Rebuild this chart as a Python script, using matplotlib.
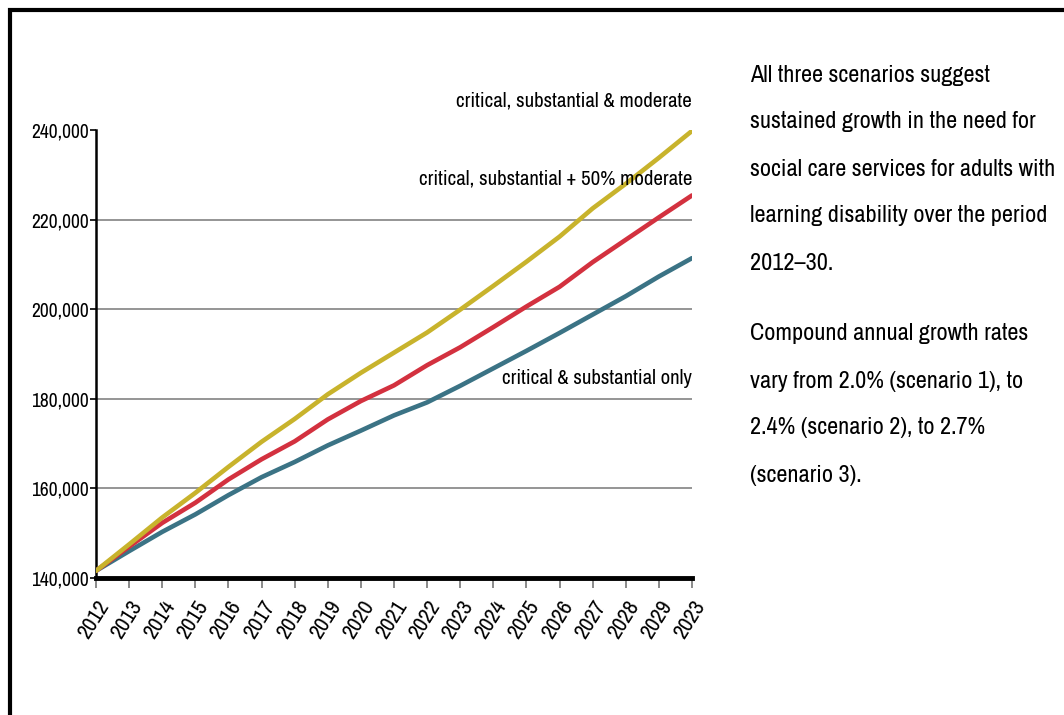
import matplotlib.pyplot as plt
import matplotlib.patches as patches
import matplotlib.font_manager as fm

# Datos
years = list(range(2012, 2031))
year_labels = [str(y) for y in range(2012, 2030)] + ['2023']

crit_sub_mod = [141600, 147500, 153500, 159000, 164800, 170400, 175500, 181000, 185800,
                190300, 194800, 199900, 205200, 210600, 216200, 222500, 228000, 233800, 239800]
crit_sub_half = [141600, 147000, 152300, 156800, 162000, 166500, 170500, 175400, 179500,
                 183000, 187500, 191500, 196000, 200600, 205000, 210500, 215500, 220500, 225400]
crit_sub_only = [141600, 146000, 150300, 154200, 158500, 162500, 165900, 169600, 172900,
                 176300, 179200, 182900, 186800, 190700, 194700, 198800, 202900, 207300, 211400]

series_names = ['critical, substantial & moderate',
                'critical, substantial + 50% moderate',
                'critical & substantial only']

yellow = '#C8B32C'
red = '#D3313F'
blue = '#3B7385'

# Buscar una fuente estrecha (condensada) instalada
narrow = None
for f in fm.fontManager.ttflist:
    regular = f.style == 'normal' and f.weight in (400, 'normal', 'regular')
    if regular and ('Narrow' in f.name or 'Condensed' in f.name or 'condensed' in str(f.stretch)
                    or f.stretch in (500, 'semi-condensed')):
        if 'Bold' in f.fname or 'Oblique' in f.fname or 'Italic' in f.fname:
            continue
        narrow = f.fname
        if 'Narrow' in f.name:
            break


def fp(size):
    if narrow:
        return fm.FontProperties(fname=narrow, size=size)
    return fm.FontProperties(family='DejaVu Sans', size=size, stretch='condensed')


fig = plt.figure(figsize=(10.64, 7.15), dpi=100)
ax = fig.add_axes([96 / 1064, 1 - 578 / 715, (692 - 96) / 1064, (578 - 130) / 715])

# Marco negro
frame = patches.Rectangle((10 / 1064, -0.1), 1.2, 1 - 10 / 715 + 0.1,
                          transform=fig.transFigure, fill=False, edgecolor='black',
                          linewidth=3, clip_on=False)
fig.patches.append(frame)

ax.plot(years, crit_sub_only, color=blue, lw=3.3, solid_capstyle='round', zorder=3)
ax.plot(years, crit_sub_half, color=red, lw=3.3, solid_capstyle='round', zorder=3)
ax.plot(years, crit_sub_mod, color=yellow, lw=3.3, solid_capstyle='round', zorder=3)

ax.set_xlim(2012, 2030)
ax.set_ylim(140000, 240000)
ax.set_yticks([140000, 160000, 180000, 200000, 220000, 240000])
ax.set_yticklabels(['140,000', '160,000', '180,000', '200,000', '220,000', '240,000'])
ax.set_xticks(years)
ax.set_xticklabels(year_labels, rotation=58, ha='right', va='top', rotation_mode='anchor')
for lab in ax.get_yticklabels():
    lab.set_fontproperties(fp(14))
for lab in ax.get_xticklabels():
    lab.set_fontproperties(fp(16))

for v in [160000, 180000, 200000, 220000]:
    ax.axhline(v, color='#8C8C8C', lw=1.3, zorder=1)

for s in ['top', 'right']:
    ax.spines[s].set_visible(False)
ax.spines['left'].set_linewidth(1.8)
ax.spines['bottom'].set_linewidth(3.5)
ax.tick_params(axis='y', length=4, width=1.2, pad=1)
ax.tick_params(axis='x', length=7, width=1.2, color='#777777', pad=7)

lab_fp = fp(15)
ax.text(2030, 246500, series_names[0], ha='right', va='center', fontproperties=lab_fp)
ax.text(2030, 229000, series_names[1], ha='right', va='center', fontproperties=lab_fp)
ax.text(2030, 184500, series_names[2], ha='right', va='center', fontproperties=lab_fp)

para1 = ['All three scenarios suggest', 'sustained growth in the need for',
         'social care services for adults with', 'learning disability over the period',
         '2012\u201330.']
para2 = ['Compound annual growth rates', 'vary from 2.0% (scenario 1), to',
         '2.4% (scenario 2), to 2.7%', '(scenario 3).']

# Ajustar el tamaño para que la línea más larga ocupe ~305 px
size = 20
renderer = fig.canvas.get_renderer()
probe = fig.text(0, 0, para1[2], fontproperties=fp(size))
w = probe.get_window_extent(renderer).width
probe.remove()
size = size * 305 / w

y0 = 75
for i, line in enumerate(para1):
    fig.text(750 / 1064, 1 - (y0 + i * 47) / 715, line, ha='left', va='center',
             fontproperties=fp(size))
y0 = 334
for i, line in enumerate(para2):
    fig.text(750 / 1064, 1 - (y0 + i * 47) / 715, line, ha='left', va='center',
             fontproperties=fp(size))

fig.savefig('out.png', dpi=100, facecolor='white')
